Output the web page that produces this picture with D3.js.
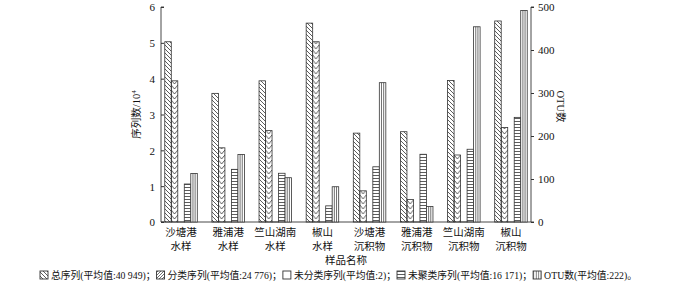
<!DOCTYPE html>
<html>
<head>
<meta charset="utf-8">
<script src="https://cdn.jsdelivr.net/npm/d3@7/dist/d3.min.js"></script>
<style>
  body { margin: 0; background: #fff; }
  text { font-family: "Liberation Serif", "Noto Sans CJK SC", serif; fill: #111; }
</style>
</head>
<body>
<svg id="chart" width="700" height="286"></svg>
<script>
// sample names (two lines each)
const sampleTop = ['沙塘港', '雅浦港', '竺山湖南', '椒山', '沙塘港', '雅浦港', '竺山湖南', '椒山'];
const sampleBottom = ['水样', '水样', '水样', '水样', '沉积物', '沉积物', '沉积物', '沉积物'];
// sequence counts, unit 10^4 (left axis)
const totalSeq = [5.03, 3.59, 3.94, 5.55, 2.48, 2.52, 3.95, 5.61];
const classifiedSeq = [3.94, 2.07, 2.55, 5.03, 0.87, 0.63, 1.87, 2.64];
const unclassifiedSeq = [0.0002, 0.0002, 0.0002, 0.0002, 0.0002, 0.0002, 0.0002, 0.0002];
const unclusteredSeq = [1.06, 1.47, 1.36, 0.45, 1.54, 1.89, 2.03, 2.92];
// OTU counts (right axis)
const otuCount = [113, 157, 103, 82, 324, 36, 454, 492];
const leftTicks = [0, 1, 2, 3, 4, 5, 6];
const rightTicks = [0, 100, 200, 300, 400, 500];
const legendLabels = ['总序列(平均值:40 949)；', '分类序列(平均值:24 776)；', '未分类序列(平均值:2)；',
  '未聚类序列(平均值:16 171)；', 'OTU数(平均值:222)。'];

const svg = d3.select('#chart');
const L = 161, R = 531, T = 7, B = 222;
const series = ['total', 'classified', 'unclassified', 'unclustered', 'otu'];

const x0 = d3.scaleBand().domain(d3.range(8)).range([L, R]).paddingInner(0.31).paddingOuter(0.08);
const x1 = d3.scaleBand().domain(series).range([0, x0.bandwidth()]);
const yL = d3.scaleLinear().domain([0, 6]).range([B, T]);
const yR = d3.scaleLinear().domain([0, 500]).range([B, T]);
const bw = x1.bandwidth();
const ink = '#333';

const defs = svg.append('defs');
// "\" hatching
defs.append('pattern').attr('id', 'hatchBack').attr('patternUnits', 'userSpaceOnUse')
  .attr('width', 4).attr('height', 4)
  .append('path').attr('d', 'M-1,3 L1,5 M-1,-1 L5,5 M3,-1 L5,1')
  .attr('stroke', ink).attr('stroke-width', 0.8);
// "/" hatching (legend)
defs.append('pattern').attr('id', 'hatchFwd').attr('patternUnits', 'userSpaceOnUse')
  .attr('width', 3).attr('height', 3)
  .append('path').attr('d', 'M-1,1 L1,-1 M0,3 L3,0 M2,4 L4,2')
  .attr('stroke', ink).attr('stroke-width', 0.7);
// horizontal lines
defs.append('pattern').attr('id', 'horiz').attr('patternUnits', 'userSpaceOnUse')
  .attr('width', 4).attr('height', 3)
  .append('line').attr('x1', 0).attr('x2', 4).attr('y1', 1.5).attr('y2', 1.5)
  .attr('stroke', ink).attr('stroke-width', 0.8);
// vertical lines (legend)
defs.append('pattern').attr('id', 'vert').attr('patternUnits', 'userSpaceOnUse')
  .attr('width', 2.5).attr('height', 4)
  .append('line').attr('x1', 1.2).attr('x2', 1.2).attr('y1', 0).attr('y2', 4)
  .attr('stroke', ink).attr('stroke-width', 0.7);

// per-bar chevron patterns so the V shapes line up with each bar
sampleTop.forEach((_, i) => {
  const px = x0(i) + x1('classified');
  const p = defs.append('pattern').attr('id', 'chev' + i).attr('patternUnits', 'userSpaceOnUse')
    .attr('x', px).attr('y', 0).attr('width', bw).attr('height', 5);
  p.append('path').attr('d', `M0,0 L${bw / 2},4 L${bw},0 M0,5 L${bw / 2},9 L${bw},5`)
    .attr('fill', 'none').attr('stroke', ink).attr('stroke-width', 0.8);
});

// axes
const axL = svg.append('g').attr('transform', `translate(${L},0)`)
  .call(d3.axisRight(yL).tickValues(leftTicks).tickSize(3).tickFormat(d3.format('d')));
axL.selectAll('text').remove();
axL.selectAll('.tick').append('text').attr('x', -6).attr('dy', '0.35em')
  .attr('text-anchor', 'end').attr('font-size', 11).text(d => d);
const axR = svg.append('g').attr('transform', `translate(${R},0)`)
  .call(d3.axisRight(yR).tickValues(rightTicks).tickSize(3).tickPadding(4));
axR.selectAll('text').attr('font-size', 11).attr('font-family', '"Liberation Serif", serif');
svg.selectAll('.domain').attr('stroke', ink).attr('stroke-width', 0.9);
svg.selectAll('.tick line').attr('stroke', ink);
axL.select('.domain').attr('d', `M3,${T}H0V${B}H3`);
axR.select('.domain').attr('d', `M3,${T}H0V${B}H3`);
svg.append('line').attr('x1', L).attr('x2', R).attr('y1', B).attr('y2', B)
  .attr('stroke', ink).attr('stroke-width', 0.9);

// bars
const g = svg.append('g');
function bars(vals, key, scale, fill) {
  g.selectAll('rect.' + key).data(vals).join('rect').attr('class', key)
    .attr('x', (d, i) => x0(i) + x1(key)).attr('width', bw)
    .attr('y', d => scale(d)).attr('height', d => B - scale(d))
    .attr('fill', typeof fill === 'function' ? fill : () => fill)
    .attr('stroke', ink).attr('stroke-width', 0.8);
}
bars(totalSeq, 'total', yL, 'url(#hatchBack)');
bars(classifiedSeq, 'classified', yL, (d, i) => `url(#chev${i})`);
bars(unclassifiedSeq, 'unclassified', yL, '#fff');
bars(unclusteredSeq, 'unclustered', yL, 'url(#horiz)');
bars(otuCount, 'otu', yR, '#fff');
// inner stripes of the OTU bars
[1 / 3, 2 / 3].forEach(f => {
  g.selectAll(null).data(otuCount).join('line')
    .attr('x1', (d, i) => x0(i) + x1('otu') + bw * f).attr('x2', (d, i) => x0(i) + x1('otu') + bw * f)
    .attr('y1', d => yR(d)).attr('y2', B).attr('stroke', ink).attr('stroke-width', 0.7);
});

// category labels
const lab = svg.append('g').attr('font-size', 10.5).attr('text-anchor', 'middle');
lab.selectAll('text.l1').data(sampleTop).join('text').attr('class', 'l1')
  .attr('x', (d, i) => x0(i) + x0.bandwidth() / 2).attr('y', 236).text(d => d);
lab.selectAll('text.l2').data(sampleBottom).join('text').attr('class', 'l2')
  .attr('x', (d, i) => x0(i) + x0.bandwidth() / 2).attr('y', 250).text(d => d);

svg.append('text').attr('x', (L + R) / 2).attr('y', 264).attr('text-anchor', 'middle')
  .attr('font-size', 10.5).text('样品名称');

// axis titles
const yt = svg.append('text').attr('transform', `translate(140,${(T + B) / 2}) rotate(-90)`)
  .attr('text-anchor', 'middle').attr('font-size', 10.5);
yt.append('tspan').text('序列数/10');
yt.append('tspan').attr('dy', -4).attr('font-size', 7).text('4');
svg.append('text').attr('transform', `translate(557,${(T + B) / 2 - 8}) rotate(90)`)
  .attr('text-anchor', 'middle').attr('font-size', 10.5).text('OTU数');

// legend, squeezed to the width the reference uses
const fills = ['url(#hatchBack)', 'url(#hatchFwd)', '#fff', 'url(#horiz)', 'url(#vert)'];
const leg = svg.append('g');
const legStart = 40, legEnd = 638;
const texts = legendLabels.map(t => leg.append('text').attr('y', 279).attr('font-size', 10.5).text(t));
const natural = texts.map(t => t.node().getComputedTextLength());
const iconSpace = 12;
const k = Math.min(1, (legEnd - legStart - iconSpace * legendLabels.length) / d3.sum(natural));
let lx = legStart;
legendLabels.forEach((t, i) => {
  leg.append('rect').attr('x', lx).attr('y', 271).attr('width', 8).attr('height', 8)
    .attr('fill', fills[i]).attr('stroke', ink).attr('stroke-width', 0.9);
  const w = natural[i] * k;
  texts[i].attr('x', lx + iconSpace - 1).attr('textLength', w).attr('lengthAdjust', 'spacingAndGlyphs');
  lx += iconSpace + w;
});
</script>
</body>
</html>
